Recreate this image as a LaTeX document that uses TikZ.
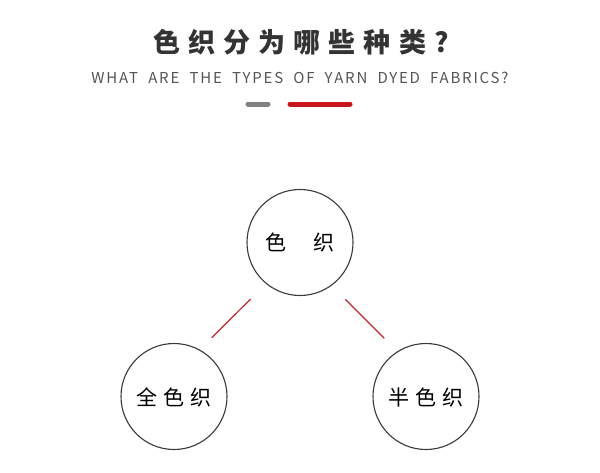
\documentclass[tikz,border=0pt]{standalone}
\usepackage{fontspec}
\setmainfont{Noto Sans CJK SC}
\newfontfamily\titlefont[LetterSpace=30]{Noto Sans CJK SC}
\newfontfamily\subfont[LetterSpace=12]{Noto Sans CJK SC}
\newfontfamily\circfont[LetterSpace=30]{Noto Sans CJK SC}
\definecolor{titlegray}{HTML}{333333}
\definecolor{subgray}{HTML}{555555}
\definecolor{bargray}{HTML}{808080}
\definecolor{barred}{HTML}{C8161D}
\definecolor{linered}{HTML}{C0272D}
\definecolor{circgray}{HTML}{3A3A3A}
\newcommand{\wsp}{\hspace{5pt} }
\begin{document}
\begin{tikzpicture}[x=1pt,y=-1pt,
  circ/.style={circle,draw=circgray,line width=1.1pt,minimum size=106pt,inner sep=0pt},
  link/.style={draw=linered,line width=1.2pt},
  bar/.style={line width=5pt,line cap=round}]
\useasboundingbox[fill=white] (0,0) rectangle (600,472);
\node[text=titlegray,font=\titlefont\bfseries\fontsize{27}{30}\selectfont] (title) at (301,42.5) {色织分为哪些种类?};
\node[text=subgray,font=\subfont\fontsize{15}{18}\selectfont] (sub) at (300,78) {WHAT\wsp ARE\wsp THE\wsp TYPES\wsp OF\wsp YARN\wsp DYED\wsp FABRICS?};
\coordinate (g1) at (248,104);
\coordinate (g2) at (268,104);
\coordinate (r1) at (290,104);
\coordinate (r2) at (350,104);
\draw[bar,bargray] (g1) -- (g2);
\draw[bar,barred] (r1) -- (r2);
\node[circ] (top) at (300,242.5) {};
\node[circ] (left) at (174,396.5) {};
\node[circ] (right) at (426,396.5) {};
\node[font=\fontsize{21}{24}\selectfont] (toplabel) at (top) {色\hspace{27pt}织};
\node[font=\circfont\fontsize{21}{24}\selectfont] (leftlabel) at (174,397.5) {全色织};
\node[font=\circfont\fontsize{21}{24}\selectfont] (rightlabel) at (426,397.5) {半色织};
\coordinate (la) at (250.7,299);
\coordinate (lb) at (211.7,337.7);
\coordinate (ra) at (345.3,299.3);
\coordinate (rb) at (384.3,338.3);
\draw[link] (la) -- (lb);
\draw[link] (ra) -- (rb);
\end{tikzpicture}
\end{document}
